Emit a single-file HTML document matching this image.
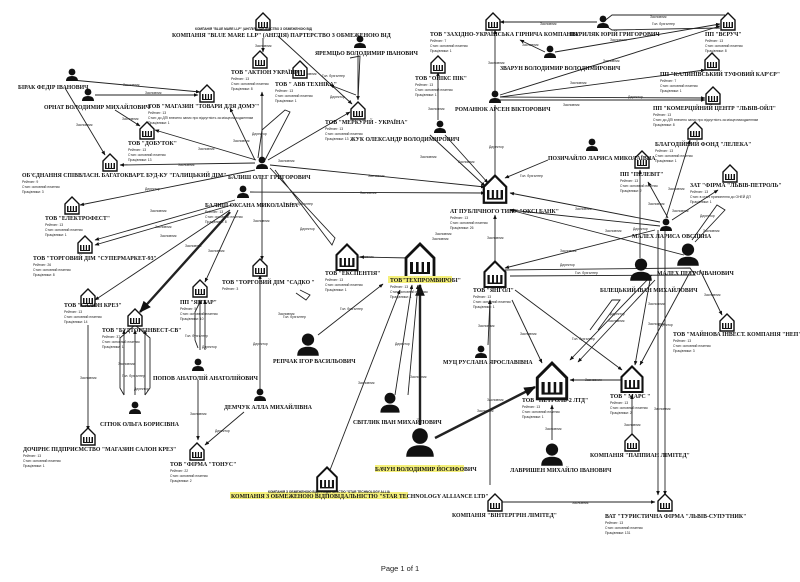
<!DOCTYPE html>
<html><head><meta charset="utf-8"><style>
html,body{margin:0;padding:0;background:#fff}
svg{display:block}
.l{font-family:"Liberation Serif",serif;font-weight:bold;font-size:5.8px;fill:#111}
.s{font-family:"Liberation Sans",sans-serif;font-size:3.4px;fill:#222}
.e{font-family:"Liberation Sans",sans-serif;font-size:3.4px;fill:#222}
.n{font-family:"Liberation Sans",sans-serif;font-size:3.2px;fill:#222}
line,polyline,path.c{stroke:#222;stroke-width:.9;fill:none}
.t{stroke-width:2.4}
</style></head><body>
<svg width="800" height="582" viewBox="0 0 800 582" xmlns="http://www.w3.org/2000/svg">
<defs>
<marker id="a" viewBox="0 0 10 10" refX="9" refY="5" markerWidth="5" markerHeight="5" orient="auto"><path d="M0,1 L10,5 L0,9 z" fill="#111"/></marker>
<g id="b"><path d="M-7,-2 L0,-9 L7,-2 L7,8 L-7,8 z" fill="#fff" stroke="#111" stroke-width="1.4"/><rect x="-5" y="0" width="10" height="6" fill="#111"/><rect x="-3.5" y="-2" width="1.5" height="7" fill="#fff"/><rect x="-0.7" y="-1" width="1.5" height="6" fill="#fff"/><rect x="2" y="-2" width="1.5" height="7" fill="#fff"/></g>
<g id="p"><circle cx="0" cy="-3" r="3.4" fill="#111"/><path d="M-6,6 Q-6,1 0,1 Q6,1 6,6 z" fill="#111"/></g>
</defs>

<g marker-end="url(#a)">
<line x1="263" y1="38" x2="263" y2="52"/>
<line x1="278" y1="36" x2="352" y2="104"/>
<line x1="72" y1="80" x2="200" y2="92"/>
<line x1="95" y1="95" x2="198" y2="95"/>
<line x1="65" y1="88" x2="105" y2="155"/>
<line x1="115" y1="110" x2="140" y2="126"/>
<line x1="256" y1="160" x2="155" y2="130"/>
<line x1="255" y1="163" x2="120" y2="165"/>
<line x1="255" y1="160" x2="230" y2="108"/>
<line x1="262" y1="158" x2="262" y2="92"/>
<line x1="268" y1="160" x2="350" y2="112"/>
<line x1="270" y1="165" x2="485" y2="187"/>
<line x1="255" y1="170" x2="80" y2="205"/>
<line x1="235" y1="200" x2="95" y2="240"/>
<line x1="232" y1="205" x2="95" y2="245"/>
<line x1="230" y1="210" x2="95" y2="300"/>
<line class="t" x1="230" y1="212" x2="140" y2="312"/>
<line x1="238" y1="210" x2="205" y2="282"/>
<line x1="262" y1="178" x2="262" y2="260"/>
<line x1="250" y1="192" x2="485" y2="193"/>
<line x1="597" y1="22" x2="500" y2="22"/>
<line x1="495" y1="92" x2="495" y2="30"/>
<line x1="545" y1="52" x2="520" y2="40"/>
<line x1="555" y1="52" x2="720" y2="24"/>
<line x1="500" y1="95" x2="720" y2="26"/>
<line x1="500" y1="97" x2="705" y2="70"/>
<line x1="500" y1="97" x2="705" y2="98"/>
<line x1="500" y1="100" x2="705" y2="100"/>
<line x1="495" y1="105" x2="495" y2="180"/>
<line x1="438" y1="120" x2="438" y2="72"/>
<line x1="430" y1="135" x2="485" y2="186"/>
<line x1="445" y1="135" x2="488" y2="183"/>
<line x1="548" y1="160" x2="505" y2="178"/>
<line x1="660" y1="222" x2="510" y2="193"/>
<line x1="660" y1="226" x2="510" y2="210"/>
<line x1="684" y1="255" x2="510" y2="210"/>
<line x1="495" y1="268" x2="495" y2="215"/>
<line x1="666" y1="218" x2="690" y2="140"/>
<line x1="668" y1="218" x2="648" y2="182"/>
<line x1="672" y1="220" x2="718" y2="190"/>
<line x1="640" y1="258" x2="640" y2="170"/>
<line x1="655" y1="230" x2="505" y2="268"/>
<line x1="700" y1="270" x2="722" y2="315"/>
<line x1="490" y1="485" x2="490" y2="300"/>
<line x1="500" y1="502" x2="655" y2="502"/>
<line x1="658" y1="230" x2="658" y2="495"/>
<line x1="665" y1="230" x2="665" y2="495"/>
<line x1="632" y1="435" x2="632" y2="395"/>
<line x1="552" y1="440" x2="552" y2="405"/>
<line x1="622" y1="380" x2="570" y2="380"/>
<line x1="512" y1="300" x2="542" y2="363"/>
<line x1="488" y1="345" x2="490" y2="300"/>
<line x1="515" y1="290" x2="622" y2="370"/>
<line x1="652" y1="275" x2="570" y2="360"/>
<line x1="655" y1="280" x2="578" y2="362"/>
<line x1="650" y1="280" x2="635" y2="365"/>
<line x1="690" y1="272" x2="640" y2="365"/>
<line class="t" x1="435" y1="438" x2="535" y2="387"/>
<line class="t" x1="420" y1="425" x2="420" y2="285"/>
<line x1="408" y1="395" x2="418" y2="285"/>
<line x1="395" y1="395" x2="412" y2="285"/>
<line x1="330" y1="470" x2="400" y2="290"/>
<line x1="318" y1="335" x2="383" y2="284"/>
<line x1="410" y1="258" x2="360" y2="257"/>
<line x1="260" y1="390" x2="260" y2="275"/>
<line x1="244" y1="412" x2="205" y2="445"/>
<line x1="198" y1="380" x2="198" y2="440"/>
<line x1="88" y1="325" x2="88" y2="430"/>
<line x1="124" y1="395" x2="124" y2="330"/>
<line x1="135" y1="395" x2="135" y2="330"/>
<line x1="145" y1="395" x2="145" y2="330"/>
<line x1="200" y1="350" x2="200" y2="300"/>
<line x1="205" y1="350" x2="205" y2="300"/>
<line x1="358" y1="55" x2="358" y2="100"/>
<line x1="356" y1="95" x2="330" y2="85"/>
</g>
<polyline points="258,158 262,130 285,110 290,112 265,160"/>
<polyline points="270,168 335,238 332,245 275,170"/>
<polyline points="300,290 310,295 306,300 296,293"/>
<polyline points="603,22 612,15 725,15"/>
<polyline points="603,24 612,30 720,28"/>
<polyline points="505,270 690,268 695,275 510,276"/>
<polyline points="692,240 717,205 725,210 695,242"/>
<polyline points="590,330 612,300 620,300 598,330"/>
<polyline points="124,395 120,388 120,338 135,325 150,338 150,388 145,395"/>
<polyline points="198,348 195,340 195,312 200,302"/>
<polyline points="350,58 360,56 358,100"/>

<g class="e">
<text x="255" y="47">Засновник</text><text x="300" y="75">Засновник</text><text x="330" y="98">Директор</text><text x="322" y="77">Гол. бухгалтер</text>
<text x="123" y="86">Засновник</text><text x="145" y="94">Засновник</text><text x="76" y="126">Засновник</text><text x="122" y="120">Засновник</text>
<text x="198" y="150">Засновник</text><text x="178" y="166">Засновник</text><text x="233" y="142">Засновник</text><text x="252" y="135">Директор</text><text x="278" y="162">Засновник</text>
<text x="368" y="177">Засновник</text><text x="360" y="194">Засновник</text><text x="145" y="190">Директор</text><text x="150" y="212">Засновник</text><text x="155" y="228">Засновник</text>
<text x="160" y="237">Засновник</text><text x="185" y="247">Засновник</text><text x="208" y="252">Засновник</text><text x="253" y="222">Засновник</text><text x="300" y="230">Директор</text><text x="290" y="205">Гол. бухгалтер</text>
<text x="540" y="25">Засновник</text><text x="650" y="18">Засновник</text><text x="652" y="25">Гол. бухгалтер</text><text x="610" y="41">Засновник</text><text x="603" y="62">Засновник</text><text x="522" y="46">Засновник</text>
<text x="488" y="64">Засновник</text><text x="570" y="84">Засновник</text><text x="628" y="98">Директор</text><text x="563" y="106">Засновник</text><text x="489" y="148">Директор</text>
<text x="428" y="110">Засновник</text><text x="420" y="158">Засновник</text><text x="458" y="163">Засновник</text><text x="520" y="177">Гол. бухгалтер</text>
<text x="575" y="210">Засновник</text><text x="605" y="232">Засновник</text><text x="560" y="252">Засновник</text><text x="487" y="239">Засновник</text><text x="432" y="240">Засновник</text>
<text x="668" y="190">Засновник</text><text x="648" y="205">Засновник</text><text x="672" y="212">Засновник</text><text x="633" y="230">Директор</text><text x="700" y="217">Директор</text><text x="703" y="232">Засновник</text>
<text x="560" y="266">Директор</text><text x="575" y="274">Гол. бухгалтер</text><text x="704" y="296">Засновник</text><text x="610" y="315">Директор</text><text x="608" y="322">Засновник</text>
<text x="648" y="305">Засновник</text><text x="648" y="325">Засновник</text><text x="658" y="326">Директор</text><text x="572" y="340">Гол. бухгалтер</text>
<text x="520" y="335">Засновник</text><text x="478" y="327">Засновник</text><text x="585" y="381">Засновник</text><text x="487" y="401">Засновник</text><text x="477" y="412">Засновник</text>
<text x="545" y="430">Засновник</text><text x="624" y="426">Засновник</text><text x="654" y="410">Засновник</text><text x="572" y="504">Засновник</text>
<text x="357" y="258">Засновник</text><text x="435" y="235">Засновник</text><text x="340" y="310">Гол. бухгалтер</text><text x="395" y="345">Директор</text><text x="410" y="378">Засновник</text><text x="358" y="384">Засновник</text>
<text x="253" y="345">Директор</text><text x="215" y="432">Директор</text><text x="190" y="415">Засновник</text><text x="80" y="379">Засновник</text>
<text x="118" y="365">Засновник</text><text x="122" y="377">Гол. бухгалтер</text><text x="134" y="390">Директор</text><text x="185" y="337">Гол. бухгалтер</text><text x="202" y="348">Директор</text><text x="278" y="315">Засновник</text><text x="283" y="318">Гол. бухгалтер</text>
</g>

<use href="#b" x="263" y="22"/><use href="#b" x="260" y="60"/><use href="#b" x="300" y="70"/><use href="#b" x="207" y="94"/><use href="#b" x="358" y="111"/>
<use href="#b" x="147" y="131"/><use href="#b" x="110" y="163"/><use href="#b" x="72" y="206"/><use href="#b" x="85" y="245"/><use href="#b" x="260" y="268"/>
<use href="#b" x="88" y="298"/><use href="#b" x="200" y="289"/><use href="#b" x="135" y="318"/><use href="#b" x="88" y="437"/><use href="#b" x="197" y="452"/>
<use href="#b" x="495" y="503"/><use href="#b" x="665" y="503"/><use href="#b" x="632" y="443"/><use href="#b" x="438" y="65"/><use href="#b" x="493" y="22"/>
<use href="#b" x="728" y="22"/><use href="#b" x="712" y="62"/><use href="#b" x="713" y="96"/><use href="#b" x="695" y="131"/><use href="#b" x="642" y="160"/>
<use href="#b" x="730" y="174"/><use href="#b" x="727" y="323"/>
<use href="#b" transform="translate(347,258) scale(1.5)"/><use href="#b" transform="translate(420,262) scale(2)"/><use href="#b" transform="translate(495,275) scale(1.5)"/>
<use href="#b" transform="translate(495,190) scale(1.6)"/><use href="#b" transform="translate(552,382) scale(2.1)"/><use href="#b" transform="translate(632,380) scale(1.5)"/>
<use href="#b" transform="translate(327,480) scale(1.4)"/>
<use href="#p" x="360" y="42"/><use href="#p" x="72" y="75"/><use href="#p" x="88" y="95"/><use href="#p" x="262" y="163"/><use href="#p" x="243" y="192"/>
<use href="#p" x="135" y="408"/><use href="#p" x="198" y="365"/><use href="#p" x="260" y="395"/><use href="#p" x="481" y="352"/><use href="#p" x="495" y="97"/>
<use href="#p" x="440" y="127"/><use href="#p" x="603" y="22"/><use href="#p" x="550" y="52"/><use href="#p" x="592" y="145"/><use href="#p" x="666" y="225"/>
<use href="#p" transform="translate(308,345) scale(1.8)"/><use href="#p" transform="translate(390,403) scale(1.6)"/><use href="#p" transform="translate(420,443) scale(2.3)"/>
<use href="#p" transform="translate(552,455) scale(1.8)"/><use href="#p" transform="translate(688,255) scale(1.8)"/><use href="#p" transform="translate(641,270) scale(1.8)"/>

<rect x="388" y="276" width="64" height="7" fill="#f5f07a"/>
<rect x="375" y="465" width="89" height="7" fill="#f5f07a"/>
<rect x="230" y="492" width="178" height="7" fill="#f5f07a"/>

<g class="l">
<text x="195" y="30" class="n">КОМПАНІЯ "BLUE MARE LLP" (АНГЛІЯ) ПАРТЕРСТВО З ОБМЕЖЕНОЮ ВІД</text>
<text x="172" y="37">КОМПАНІЯ "BLUE MARE LLP" (АНГЛІЯ) ПАРТЕРСТВО З ОБМЕЖЕНОЮ ВІД</text>
<text x="315" y="55">ЯРЕМЦЬО ВОЛОДИМИР ІВАНОВИЧ</text>
<text x="231" y="74">ТОВ "АКТІОН УКРАЇНА"</text>
<text x="275" y="86">ТОВ " АВВ ТЕХНІКА"</text>
<text x="18" y="89">БІРАК ФЕДІР ІВАНОВИЧ</text>
<text x="44" y="109">ОРНАТ ВОЛОДИМИР МИХАЙЛОВИЧ</text>
<text x="148" y="108">ТОВ "МАГАЗИН "ТОВАРИ ДЛЯ ДОМУ"</text>
<text x="325" y="124">ТОВ "МЕРКУРІЙ - УКРАЇНА"</text>
<text x="128" y="145">ТОВ "ДОБУТОК"</text>
<text x="22" y="177">ОБ'ЄДНАННЯ СПІВВЛАСН. БАГАТОКВАРТ. БУД-КУ "ГАЛИЦЬКИЙ ДІМ"</text>
<text x="228" y="179">БАЛИШ ОЛЕГ ГРИГОРОВИЧ</text>
<text x="205" y="207">БАЛИШ ОКСАНА МИКОЛАЇВНА</text>
<text x="45" y="220">ТОВ "ЕЛЕКТРОФЕСТ"</text>
<text x="33" y="260">ТОВ "ТОРГОВИЙ ДІМ "СУПЕРМАРКЕТ-93"</text>
<text x="325" y="275">ТОВ "ЕКСПЕНТІЯ"</text>
<text x="222" y="284">ТОВ "ТОРГОВИЙ ДІМ "САДКО "</text>
<text x="390" y="282">ТОВ"ТЕХПРОМВИРОБІ"</text>
<text x="473" y="292">ТОВ "ЯНГОЛ"</text>
<text x="64" y="307">ТОВ "САЛОН КРЕЗ"</text>
<text x="180" y="304">ПП "ЯНТАР"</text>
<text x="102" y="332">ТОВ "БУДТОРГІНВЕСТ-СВ"</text>
<text x="153" y="380">ПОПОВ АНАТОЛІЙ АНАТОЛІЙОВИЧ</text>
<text x="100" y="426">СІТЮК ОЛЬГА БОРИСІВНА</text>
<text x="224" y="409">ДЕМЧУК АЛЛА МИХАЙЛІВНА</text>
<text x="273" y="363">РЕПЧАК ІГОР ВАСИЛЬОВИЧ</text>
<text x="23" y="451">ДОЧІРНЄ ПІДПРИЄМСТВО "МАГАЗИН САЛОН КРЕЗ"</text>
<text x="170" y="466">ТОВ "ФІРМА "ТОНУС"</text>
<text x="353" y="424">СВІТЛИК ІВАН МИХАЙЛОВИЧ</text>
<text x="375" y="471">БАЧУН ВОЛОДИМИР ЙОСИФОВИЧ</text>
<text x="268" y="493" class="n">КОМПАНІЯ З ОБМЕЖЕНОЮ ВІДПОВІДАЛЬНІСТЮ "STAR TECHNOLOGY ALLIA</text>
<text x="231" y="498">КОМПАНІЯ З ОБМЕЖЕНОЮ ВІДПОВІДАЛЬНІСТЮ "STAR TECHNOLOGY ALLIANCE LTD"</text>
<text x="452" y="517">КОМПАНІЯ "ВІНТЕРГРІН ЛІМІТЕД"</text>
<text x="605" y="518">ВАТ "ТУРИСТИЧНА ФІРМА "ЛЬВІВ-СУПУТНИК"</text>
<text x="522" y="402">ТОВ "ПЕТРОЛЬ-2 ЛТД"</text>
<text x="610" y="398">ТОВ " МАРС "</text>
<text x="590" y="457">КОМПАНІЯ "ПАППИАН ЛІМІТЕД"</text>
<text x="510" y="472">ЛАВРИШЕН МИХАЙЛО ІВАНОВИЧ</text>
<text x="443" y="364">МУЦ РУСЛАНА ЯРОСЛАВІВНА</text>
<text x="450" y="213">АТ ПУБЛІЧНОГО ТИПУ "ОКСІ БАНК"</text>
<text x="455" y="111">РОМАНЮК АРСЕН ВІКТОРОВИЧ</text>
<text x="415" y="80">ТОВ "ОНІКС ПІК"</text>
<text x="350" y="141">ЖУК ОЛЕКСАНДР ВОЛОДИМИРОВИЧ</text>
<text x="430" y="36">ТОВ "ЗАХІДНО-УКРАЇНСЬКА ГІРНИЧА КОМПАНІЯ"</text>
<text x="570" y="36">ПАРИЛЯК ЮРІЙ ГРИГОРОВИЧ</text>
<text x="500" y="70">ЗВАРУН ВОЛОДИМИР ВОЛОДИМИРОВИЧ</text>
<text x="705" y="36">ПП "ВЄРУЧ"</text>
<text x="660" y="76">ПП "КАЛИНІВСЬКИЙ ТУФОВИЙ КАР'ЄР"</text>
<text x="653" y="110">ПП "КОМЕРЦІЙНИЙ ЦЕНТР "ЛЬВІВ-ОЙЛ"</text>
<text x="655" y="146">БЛАГОДІЙНИЙ ФОНД "ЛЕЛЕКА"</text>
<text x="548" y="160">ПОЗИЧАЙЛО ЛАРИСА МИКОЛАЇВНА</text>
<text x="620" y="176">ПП "ПЕЛЕВІТ"</text>
<text x="690" y="187">ЗАТ "ФІРМА "ЛЬВІВ-ПЕТРОЛЬ"</text>
<text x="632" y="238">МАЛЕХ ЛАРИСА ОВСІЇВНА</text>
<text x="657" y="275">МАЛЕХ ПЕТРО ІВАНОВИЧ</text>
<text x="600" y="292">БІЛЕЦЬКИЙ ІВАН МИХАЙЛОВИЧ</text>
<text x="673" y="336">ТОВ "МАЙНОВА ІНВЕСТ. КОМПАНІЯ "НЕП"</text>
</g>
<g class="s">
<text x="231" y="80">Рейтинг: 13</text><text x="231" y="85">Стан: основний платник</text><text x="231" y="90">Працівники: 8</text>
<text x="275" y="92">Рейтинг: 13</text><text x="275" y="97">Стан: основний платник</text><text x="275" y="102">Працівники: 1</text>
<text x="148" y="114">Рейтинг: 13</text><text x="148" y="119">Стан: до ДПІ внесено запис про відсутність за місцезнаходженням</text><text x="148" y="124">Працівники: 1</text>
<text x="325" y="130">Рейтинг: 13</text><text x="325" y="135">Стан: основний платник</text><text x="325" y="140">Працівники: 13</text>
<text x="128" y="151">Рейтинг: 13</text><text x="128" y="156">Стан: основний платник</text><text x="128" y="161">Працівники: 13</text>
<text x="22" y="183">Рейтинг: 9</text><text x="22" y="188">Стан: основний платник</text><text x="22" y="193">Працівники: 3</text>
<text x="205" y="213">Рейтинг: 13</text><text x="205" y="218">Стан: основний платник</text><text x="205" y="223">Працівники: 8</text>
<text x="45" y="226">Рейтинг: 13</text><text x="45" y="231">Стан: основний платник</text><text x="45" y="236">Працівники: 1</text>
<text x="33" y="266">Рейтинг: 26</text><text x="33" y="271">Стан: основний платник</text><text x="33" y="276">Працівники: 8</text>
<text x="325" y="281">Рейтинг: 13</text><text x="325" y="286">Стан: основний платник</text><text x="325" y="291">Працівники: 1</text>
<text x="222" y="290">Рейтинг: 3</text>
<text x="390" y="288">Рейтинг: 13</text><text x="390" y="293">Стан: основний платник</text><text x="390" y="298">Працівники: 1</text>
<text x="473" y="298">Рейтинг: 13</text><text x="473" y="303">Стан: основний платник</text><text x="473" y="308">Працівники: 1</text>
<text x="64" y="313">Рейтинг: 13</text><text x="64" y="318">Стан: основний платник</text><text x="64" y="323">Працівники: 14</text>
<text x="180" y="310">Рейтинг: 5</text><text x="180" y="315">Стан: основний платник</text><text x="180" y="320">Працівники: 10</text>
<text x="102" y="338">Рейтинг: 37</text><text x="102" y="343">Стан: основний платник</text><text x="102" y="348">Працівники: 1</text>
<text x="23" y="457">Рейтинг: 13</text><text x="23" y="462">Стан: основний платник</text><text x="23" y="467">Працівники: 1</text>
<text x="170" y="472">Рейтинг: 22</text><text x="170" y="477">Стан: основний платник</text><text x="170" y="482">Працівники: 2</text>
<text x="605" y="524">Рейтинг: 13</text><text x="605" y="529">Стан: основний платник</text><text x="605" y="534">Працівники: 131</text>
<text x="522" y="408">Рейтинг: 13</text><text x="522" y="413">Стан: основний платник</text><text x="522" y="418">Працівники: 1</text>
<text x="610" y="404">Рейтинг: 13</text><text x="610" y="409">Стан: основний платник</text><text x="610" y="414">Працівники: 2</text>
<text x="450" y="219">Рейтинг: 13</text><text x="450" y="224">Стан: основний платник</text><text x="450" y="229">Працівники: 26</text>
<text x="415" y="86">Рейтинг: 13</text><text x="415" y="91">Стан: основний платник</text><text x="415" y="96">Працівники: 1</text>
<text x="430" y="42">Рейтинг: 7</text><text x="430" y="47">Стан: основний платник</text><text x="430" y="52">Працівники: 1</text>
<text x="705" y="42">Рейтинг: 13</text><text x="705" y="47">Стан: основний платник</text><text x="705" y="52">Працівники: 8</text>
<text x="660" y="82">Рейтинг: 7</text><text x="660" y="87">Стан: основний платник</text><text x="660" y="92">Працівники: 1</text>
<text x="653" y="116">Рейтинг: 13</text><text x="653" y="121">Стан: до ДПІ внесено запис про відсутність за місцезнаходженням</text><text x="653" y="126">Працівники: 8</text>
<text x="655" y="152">Рейтинг: 13</text><text x="655" y="157">Стан: основний платник</text><text x="655" y="162">Працівники: 1</text>
<text x="620" y="182">Рейтинг: 13</text><text x="620" y="187">Стан: основний платник</text><text x="620" y="192">Працівники: 2</text>
<text x="690" y="193">Рейтинг: 13</text><text x="690" y="198">Стан: в стані припинення до ОНЕЙ ДП</text><text x="690" y="203">Працівники: 1</text>
<text x="673" y="342">Рейтинг: 13</text><text x="673" y="347">Стан: основний платник</text><text x="673" y="352">Працівники: 3</text>
</g>
<text x="400" y="571" font-family="Liberation Sans, sans-serif" font-size="7.5" text-anchor="middle" fill="#222">Page 1 of 1</text>
</svg>
</body></html>
